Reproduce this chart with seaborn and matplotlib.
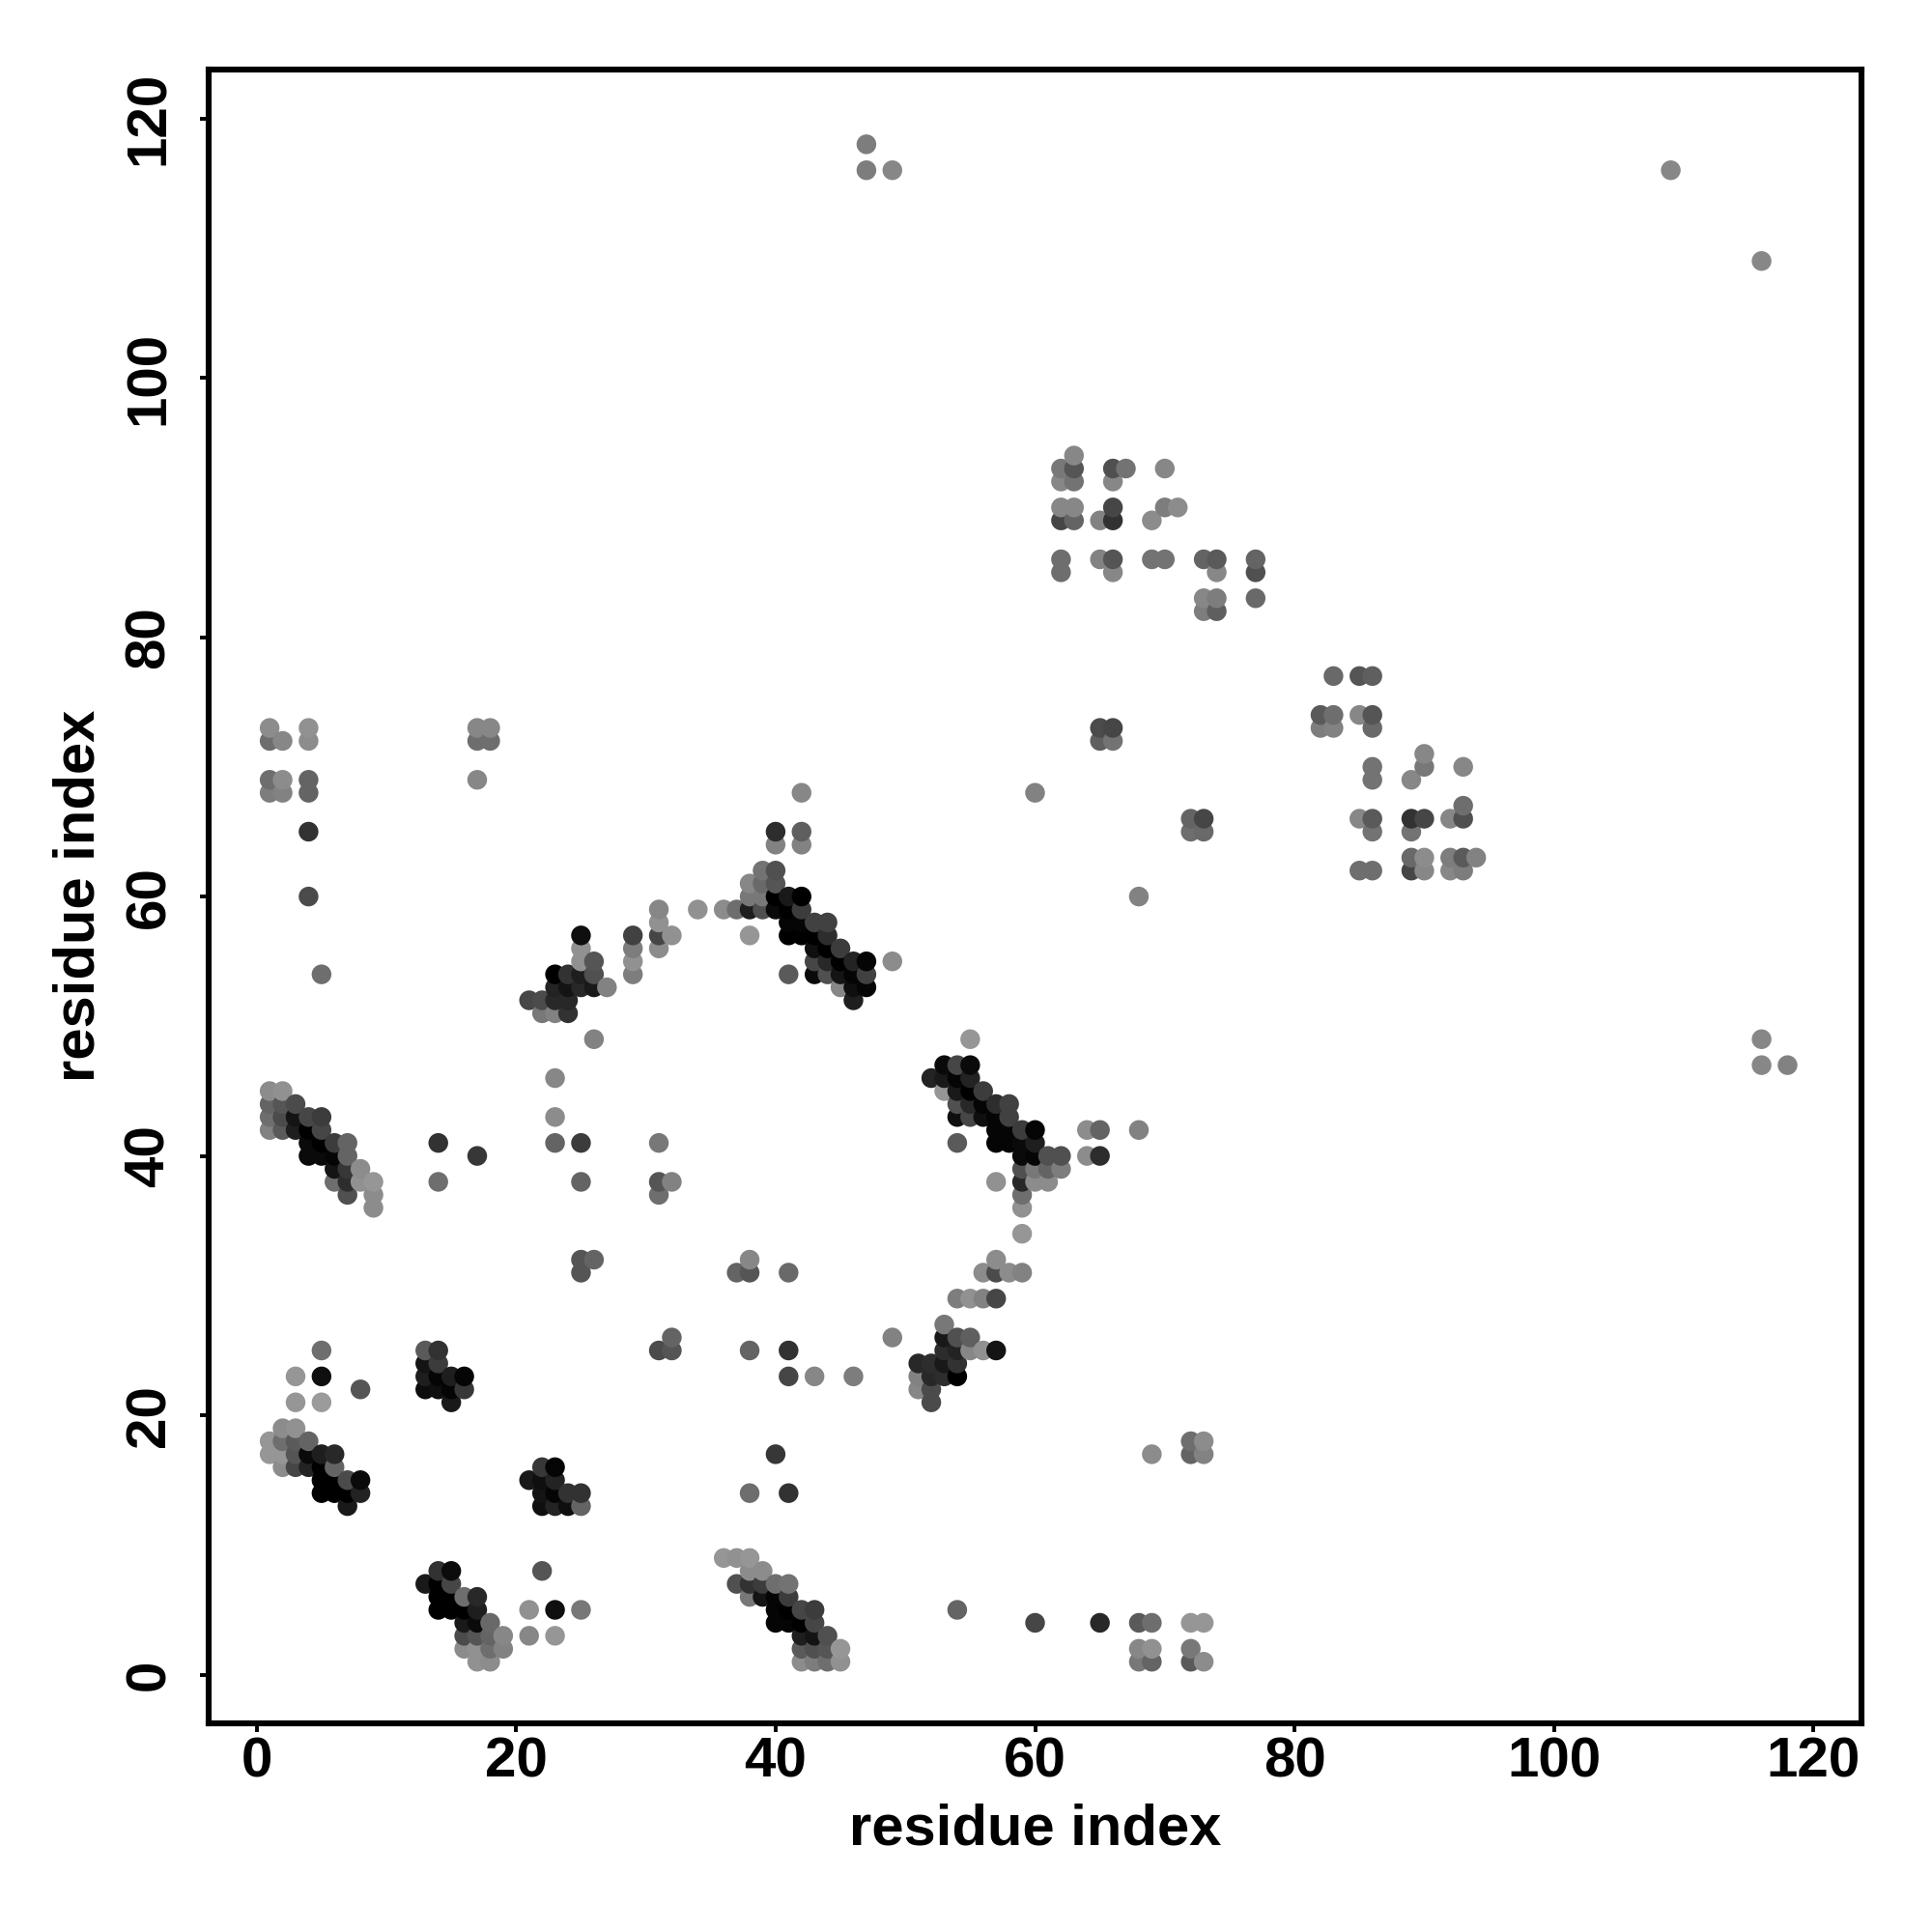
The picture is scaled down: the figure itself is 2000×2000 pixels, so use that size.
# contact map of residue pairs, grey level = contact strength
import pandas as pd
import seaborn as sns
import matplotlib
matplotlib.use('Agg')
import matplotlib.pyplot as plt

# one entry per row of the map: y index, x indices on that row, grey levels (0 black, 255 white)
row_y = [118, 116, 109, 94, 93, 92, 90, 89, 86, 85, 83, 82, 77, 74, 73, 72, 71, 70, 69, 68, 67, 66, 65, 64,
         63, 62, 61, 60, 59, 58, 57, 56, 55, 54, 53, 52, 51, 49, 47, 46, 45, 44, 43, 42, 41, 40, 39, 38,
         37, 36, 34, 32, 31, 29, 27, 26, 25, 24, 23, 22, 21, 19, 18, 17, 16, 15, 14, 13, 9, 8, 7, 6, 5, 4, 3, 2, 1]

row_x = [
    [47], [47, 49, 109], [116], [63], [62, 63, 66, 67, 70], [62, 63, 66], [62, 63, 66, 70, 71],
    [62, 63, 65, 66, 69], [62, 65, 66, 69, 70, 73, 74, 77], [62, 66, 74, 77], [73, 74, 77], [73, 74],
    [83, 85, 86], [82, 83, 85, 86], [1, 4, 17, 18, 65, 66, 82, 83, 86], [1, 2, 4, 17, 18, 65, 66], [90],
    [86, 90, 93], [1, 2, 4, 17, 86, 89], [1, 2, 4, 42, 60], [93], [72, 73, 85, 86, 89, 90, 92, 93],
    [4, 40, 42, 72, 73, 86, 89], [40, 42],
    [89, 90, 92, 93, 94], [39, 40, 85, 86, 89, 90, 92, 93], [38, 39, 40], [4, 38, 39, 40, 41, 42, 68],
    [31, 34, 36, 37, 38, 39, 40, 41, 42], [31, 41, 42, 43, 44], [25, 29, 31, 32, 38, 41, 42, 43, 44],
    [25, 29, 31, 43, 44, 45], [25, 26, 29, 43, 44, 45, 46, 47, 49],
    [5, 23, 24, 25, 26, 29, 41, 43, 44, 45, 46, 47], [23, 24, 25, 26, 27, 45, 46, 47], [21, 22, 23, 24, 46],
    [22, 23, 24], [26, 55, 116], [53, 54, 55, 116, 118], [23, 52, 53, 54, 55], [1, 2, 53, 54, 55, 56],
    [1, 2, 3, 54, 55, 56, 57, 58], [1, 2, 3, 4, 5, 23, 54, 55, 56, 57, 58],
    [1, 2, 3, 4, 5, 57, 58, 59, 60, 64, 65, 68], [4, 5, 6, 7, 14, 23, 25, 31, 54, 57, 58, 59, 60],
    [4, 5, 6, 7, 17, 59, 60, 61, 62, 64, 65], [6, 7, 8, 59, 60, 61, 62],
    [6, 7, 8, 9, 14, 25, 31, 32, 57, 59, 60, 61],
    [7, 9, 31, 59], [9, 59], [59], [25, 26, 38, 57], [25, 37, 38, 41, 56, 57, 58, 59], [54, 55, 56, 57], [53],
    [32, 49, 53, 54, 55], [5, 13, 14, 31, 32, 38, 41, 53, 54, 55, 56, 57], [13, 14, 51, 52, 53, 54],
    [3, 5, 13, 14, 15, 16, 41, 43, 46, 51, 52, 53, 54], [8, 13, 14, 15, 16, 51, 52], [3, 5, 15, 52], [2, 3],
    [1, 2, 3, 4, 72, 73], [1, 2, 3, 4, 5, 6, 40, 69, 72, 73], [2, 3, 4, 5, 6, 22, 23],
    [5, 6, 7, 8, 21, 22, 23], [5, 6, 7, 8, 22, 23, 24, 25, 38, 41], [7, 22, 23, 24, 25], [36, 37, 38],
    [14, 15, 22, 38, 39], [13, 14, 15, 37, 38, 39, 40, 41], [14, 15, 16, 17, 38, 39, 40, 41],
    [14, 15, 16, 17, 21, 23, 25, 40, 41, 42, 43, 54], [16, 17, 18, 40, 41, 42, 43, 60, 65, 68, 69, 72, 73],
    [16, 17, 18, 19, 21, 23, 42, 43, 44], [16, 17, 18, 19, 42, 43, 44, 45, 68, 69, 72],
    [17, 18, 42, 43, 44, 45, 68, 69, 72, 73],
]

row_shade = [
    [125], [125, 135, 135], [135], [135], [120, 85, 80, 115, 135], [135, 115, 135], [135, 135, 70, 125, 140],
    [70, 100, 130, 50, 140], [110, 130, 85, 115, 115, 100, 90, 100], [110, 135, 135, 80], [135, 125, 105], [125, 95],
    [105, 85, 95], [90, 110, 135, 85], [140, 145, 135, 135, 75, 70, 125, 130, 105], [110, 135, 140, 110, 110, 95, 115], [135],
    [115, 120, 135], [110, 140, 100, 135, 115, 135], [125, 130, 100, 135, 130], [110], [100, 70, 135, 90, 50, 70, 135, 80],
    [50, 45, 95, 110, 105, 115, 115], [130, 130],
    [105, 140, 125, 90, 130], [115, 80, 110, 110, 70, 135, 135, 125], [135, 105, 85], [75, 120, 120, 0, 25, 0, 130],
    [135, 145, 140, 110, 30, 80, 10, 0, 60], [145, 5, 5, 65, 65], [15, 65, 70, 145, 150, 0, 0, 0, 45],
    [145, 125, 140, 15, 0, 60], [145, 85, 145, 70, 40, 0, 35, 5, 140],
    [110, 0, 50, 30, 80, 125, 90, 10, 80, 20, 5, 65], [35, 20, 40, 25, 130, 135, 15, 5], [70, 75, 40, 40, 30],
    [120, 130, 50], [130, 150, 135], [10, 70, 10, 135, 130], [135, 35, 25, 5, 35], [140, 145, 150, 25, 0, 60],
    [100, 85, 75, 80, 40, 5, 45, 65], [110, 75, 20, 70, 60, 140, 15, 70, 15, 5, 65],
    [130, 90, 30, 0, 70, 5, 5, 60, 5, 140, 100, 130], [10, 0, 60, 100, 50, 100, 60, 120, 90, 5, 5, 10, 30],
    [10, 10, 5, 100, 55, 10, 5, 80, 80, 140, 45], [20, 55, 140, 80, 120, 100, 125],
    [110, 45, 145, 150, 110, 100, 85, 130, 145, 40, 140, 140],
    [80, 140, 110, 110], [140, 145], [150], [85, 100, 135, 140], [85, 100, 85, 105, 140, 75, 140, 130], [125, 145, 130, 70], [120],
    [100, 130, 25, 80, 95], [110, 90, 50, 75, 85, 100, 50, 45, 35, 135, 145, 20], [20, 60, 40, 45, 25, 50],
    [150, 15, 30, 5, 30, 5, 70, 135, 125, 130, 40, 45, 0], [85, 12, 15, 5, 55, 135, 75], [150, 155, 25, 75], [140, 145],
    [150, 110, 90, 100, 110, 140], [150, 150, 85, 10, 30, 40, 55, 140, 100, 130], [140, 70, 35, 0, 100, 55, 5],
    [0, 0, 75, 10, 25, 15, 35], [0, 0, 0, 35, 20, 5, 50, 50, 110, 50], [25, 15, 35, 15, 100], [150, 145, 150],
    [50, 12, 85, 140, 140], [25, 0, 70, 80, 50, 60, 110, 115], [0, 0, 110, 40, 120, 20, 5, 60],
    [0, 0, 0, 30, 145, 15, 120, 5, 0, 70, 60, 100], [25, 10, 105, 5, 5, 0, 70, 70, 40, 90, 110, 150, 150],
    [75, 85, 100, 135, 135, 150, 30, 20, 80], [140, 145, 110, 130, 90, 80, 85, 150, 135, 145, 120],
    [145, 140, 140, 125, 110, 145, 120, 100, 90, 140],
]

tick_values = [0, 20, 40, 60, 80, 100, 120]

# flatten the rows into a table
records = []
for y, xs, shades in zip(row_y, row_x, row_shade, strict=True):
    for x, shade in zip(xs, shades, strict=True):
        records.append({"x": x, "y": y, "shade": shade})
df = pd.DataFrame(records).sort_values(["x", "y"])

sns.set_theme(style="white")
plt.rcParams['font.family'] = ['Liberation Sans', 'DejaVu Sans']
plt.rcParams['font.weight'] = 'bold'

fig = plt.figure(figsize=(10, 10), dpi=200)
ax = fig.add_axes([216 / 2000, 1 - 1784 / 2000, (1927 - 216) / 2000, (1784 - 71.5) / 2000])

sns.scatterplot(data=df, x="x", y="y", hue="shade", palette="gray", hue_norm=(0, 255),
                s=54, linewidth=0, alpha=1, legend=False, ax=ax, clip_on=True)

ax.set_xlim(-3.7, 123.7)
ax.set_ylim(-3.75, 123.8)
ax.set_xticks(tick_values)
ax.set_yticks(tick_values)
ax.tick_params(axis='both', direction='out', length=3.2, width=1.4, color='black',
               labelsize=21, labelcolor='black', bottom=True, left=True)
ax.tick_params(axis='x', pad=1.8)
ax.tick_params(axis='y', pad=9)
for lab in ax.get_yticklabels():
    lab.set_rotation(90)
    lab.set_verticalalignment('center')
for spine in ax.spines.values():
    spine.set_linewidth(2.2)
    spine.set_color('black')

ax.set_xlabel("residue index", fontsize=21.5, fontweight='bold', color='black', labelpad=5.2)
ax.set_ylabel("residue index", fontsize=21.5, fontweight='bold', color='black', labelpad=6.8)

fig.savefig("out.png", dpi=200, facecolor='white')
